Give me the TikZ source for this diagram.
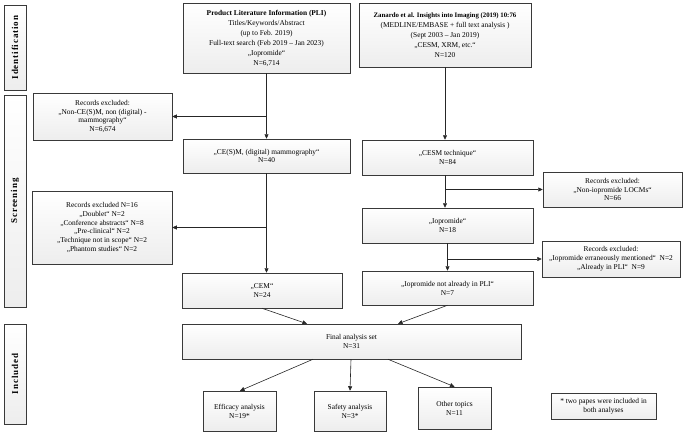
\documentclass[tikz,border=0pt]{standalone}
\usepackage{fontspec}
\setmainfont{Liberation Serif}
\newfontfamily\lblfont[LetterSpace=10]{Liberation Serif}
\usetikzlibrary{arrows.meta,shadows,calc}
\newcommand{\fs}{\fontsize{7.4}{8.9}\selectfont}
\newcommand{\fsb}{\fontsize{7.4}{10}\selectfont}
\tikzset{
  box/.style={draw=gray!45!black, line width=0.5pt, top color=white, bottom color=gray!14,
    drop shadow={shadow xshift=1.2pt, shadow yshift=-1.2pt, fill=gray!45, opacity=0.8},
    align=center, inner sep=1pt, font=\fs},
  boxb/.style={box, font=\fsb},
  sidelbl/.style={box},
  sidetxt/.style={rotate=90, font=\lblfont\fontsize{9}{10}\selectfont\bfseries},
  arr/.style={draw=gray!30!black, line width=0.6pt, -{Triangle[length=4.5pt,width=4pt]}},
}
\begin{document}
\begin{tikzpicture}[x=1pt,y=-1pt]
\useasboundingbox (0,0) rectangle (684,433);
% side labels
\node[sidelbl, minimum width=22pt, minimum height=85pt] (idl) at (15,47.5) {};
\node[sidetxt] (idlt) at (idl.center) {Identification};
\node[sidelbl, minimum width=22pt, minimum height=212pt] (scl) at (15,201) {};
\node[sidetxt] (sclt) at (scl.center) {Screening};
\node[sidelbl, minimum width=22pt, minimum height=100pt] (inl) at (15,374) {};
\node[sidetxt] (inlt) at (inl.center) {Included};
% sources
\node[boxb, minimum width=167pt, minimum height=70pt] (pli) at (266.5,38)
  {\textbf{Product Literature Information (PLI)}\\Titles/Keywords/Abstract\\(up to Feb. 2019)\\Full-text search (Feb 2019 – Jan 2023)\\„Iopromide“\\N=6,714};
\node[boxb, minimum width=172pt, minimum height=64pt] (zan) at (445,35)
  {{\fontsize{6.8}{10}\selectfont\textbf{Zanardo et al. Insights into Imaging (2019) 10:76}}\\(MEDLINE/EMBASE + full text analysis )\\(Sept 2003 – Jan 2019)\\„CESM, XRM, etc.“\\N=120};
% left column
\node[box, minimum width=139pt, minimum height=47pt] (ex1) at (102.5,116.5)
  {Records excluded:\\„Non-CE(S)M, non (digital) -\\mammography“\\N=6,674};
\node[box, minimum width=167pt, minimum height=34pt] (ces) at (266.5,156)
  {„CE(S)M, (digital) mammography“\\N=40};
\node[box, minimum width=140pt, minimum height=73pt] (ex2) at (102,227.5)
  {Records excluded N=16\\„Doublet“ N=2\\„Conference abstracts“ N=8\\„Pre-clinical“ N=2\\„Technique not in scope“ N=2\\„Phantom studies“ N=2};
\node[box, minimum width=160pt, minimum height=35pt] (cem) at (262,290.5)
  {„CEM“\\N=24};
% right column
\node[box, minimum width=171pt, minimum height=35pt] (cst) at (447.5,157.5)
  {„CESM technique“\\N=84};
\node[box, minimum width=139pt, minimum height=35pt] (exr1) at (612.5,189.5)
  {Records excluded:\\„Non-iopromide LOCMs“\\N=66};
\node[box, minimum width=171pt, minimum height=35pt] (iop) at (447.5,225.5)
  {„Iopromide“\\N=18};
\node[box, minimum width=138pt, minimum height=36pt] (exr2) at (611,259)
  {Records excluded:\\„Iopromide erraneously mentioned“\ \ N=2\\„Already in PLI“\ \ N=9};
\node[box, minimum width=171pt, minimum height=34pt] (ipn) at (447.5,288)
  {„Iopromide not already in PLI“\\N=7};
% included
\node[box, minimum width=339pt, minimum height=35pt] (fin) at (351.5,341.5)
  {Final analysis set\\N=31};
\node[box, minimum width=73pt, minimum height=40pt] (eff) at (239.5,411)
  {Efficacy analysis\\N=19*};
\node[box, minimum width=72pt, minimum height=40pt] (saf) at (350,411)
  {Safety analysis\\N=3*};
\node[box, minimum width=73pt, minimum height=42pt] (oth) at (454.5,408)
  {Other topics\\N=11};
\node[box, minimum width=105pt, minimum height=26pt] (note) at (603.5,406)
  {* two papes were included in\\both analyses};
% connectors
\coordinate (b1) at (pli.south |- ex1.east);
\coordinate (b2) at (ces.south |- ex2.east);
\coordinate (b3) at ([xshift=-2.5pt]cst.south |- exr1.west);
\coordinate (b4) at (iop.south |- exr2.west);
\draw[arr] (pli.south) -- (pli.south |- ces.north);
\draw[arr] (b1) -- (ex1.east);
\draw[arr] (ces.south) -- (ces.south |- cem.north);
\draw[arr] (b2) -- (ex2.east);
\draw[arr] (zan.south) -- (zan.south |- cst.north);
\draw[arr] ([xshift=-2.5pt]cst.south) -- ([xshift=-2.5pt]iop.north);
\draw[arr] (b3) -- (exr1.west);
\draw[arr] (iop.south) -- (ipn.north);
\draw[arr] (b4) -- (exr2.west);
\draw[arr] (cem.south) -- ([xshift=-44.5pt]fin.north);
\draw[arr] (ipn.south) -- ([xshift=46.5pt]fin.north);
\draw[arr] ([xshift=-38.5pt]fin.south) -- ([xshift=0.5pt]eff.north);
\draw[arr] ([xshift=-0.5pt]fin.south) -- (saf.north);
\draw[arr] ([xshift=36.5pt]fin.south) -- (oth.north);
\end{tikzpicture}
\end{document}
